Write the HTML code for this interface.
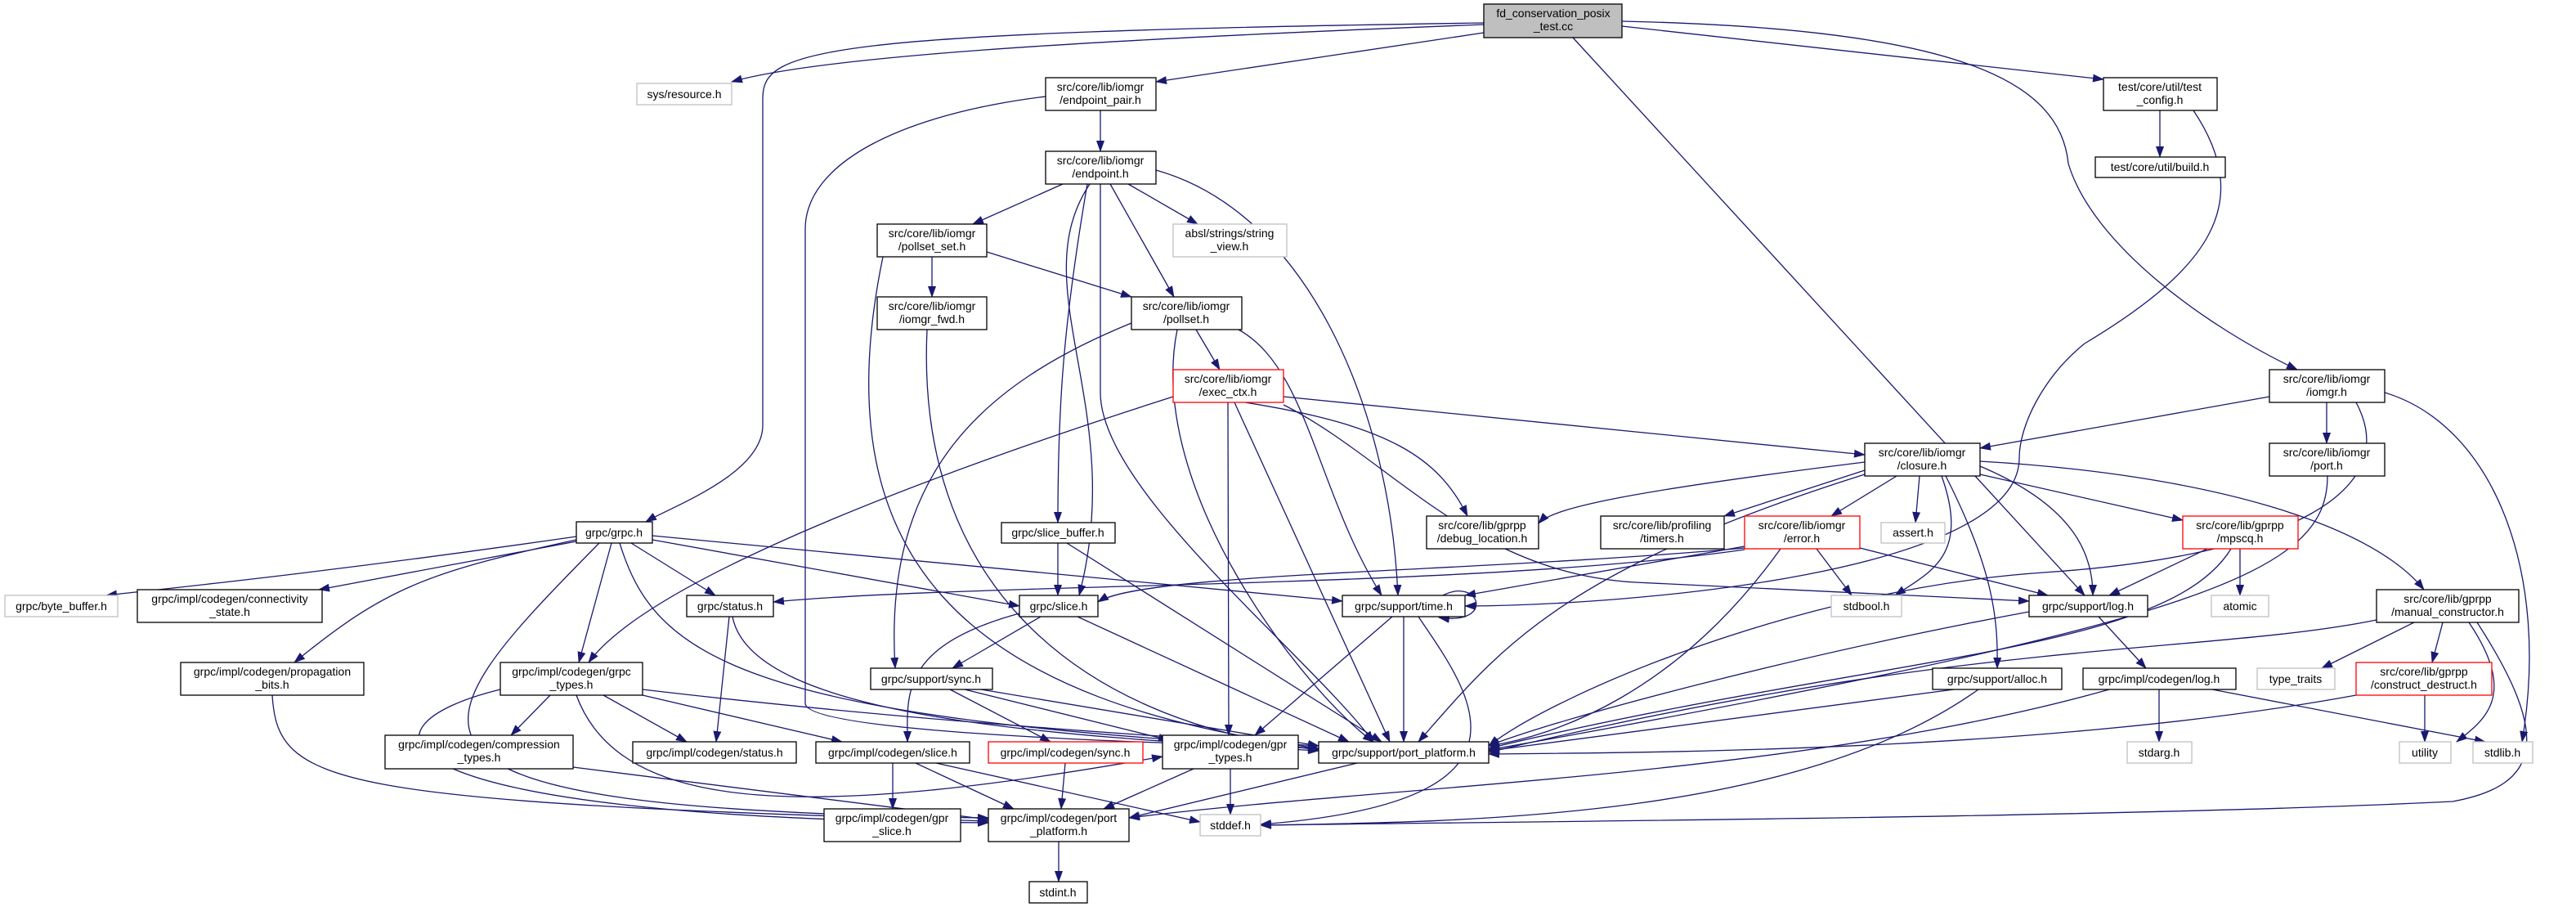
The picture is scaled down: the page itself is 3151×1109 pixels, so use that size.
<!DOCTYPE html>
<html><head><meta charset="utf-8"><style>
html,body{margin:0;padding:0;background:#fff;}
svg{display:block;}
text{font-family:"Liberation Sans",sans-serif;font-size:14px;fill:#000;text-anchor:middle;}
.e{fill:none;stroke:#191970;stroke-width:1.3;marker-end:url(#a);}
.n{fill:#fff;stroke:#000;stroke-width:1.3;}
.g{fill:#fff;stroke:#bfbfbf;stroke-width:1.3;}
.r{fill:#fff;stroke:#ff0000;stroke-width:1.3;}
</style></head><body>
<svg width="3151" height="1109" viewBox="0 0 3151 1109" xmlns="http://www.w3.org/2000/svg">
<defs><marker id="a" markerUnits="userSpaceOnUse" markerWidth="14" markerHeight="10" refX="13" refY="5" orient="auto"><path d="M0,0 L14,5 L0,10 z" fill="#191970"/></marker></defs>
<g>
<path class="e" d="M1815,30 C1300,50 1000,70 895,100"/>
<path class="e" d="M1815,28 C1000,40 933,60 933,120 L933,520 C933,580 820,620 790,638"/>
<path class="e" d="M1815,40 L1414,100"/>
<path class="e" d="M1924,46 L2550,728"/>
<path class="e" d="M1984,32 L2573,97"/>
<path class="e" d="M1984,26 C2400,35 2520,100 2530,200 C2560,300 2700,400 2810,452"/>
<path class="e" d="M1346,135 L1346,185"/>
<path class="e" d="M1279,118 C1100,140 985,200 985,280 L985,860 C985,900 1500,910 1613,915"/>
<path class="e" d="M1300,225 L1190,274"/>
<path class="e" d="M1380,225 L1465,274"/>
<path class="e" d="M1358,225 L1436,363"/>
<path class="e" d="M1330,225 C1300,400 1294,500 1294,639"/>
<path class="e" d="M1333,225 C1250,350 1380,500 1320,728"/>
<path class="e" d="M1346,225 L1346,480 C1346,600 1600,800 1680,907"/>
<path class="e" d="M1414,208 C1600,260 1700,500 1710,728"/>
<path class="e" d="M1140,314 L1140,363"/>
<path class="e" d="M1207,308 L1384,363"/>
<path class="e" d="M1080,314 C1000,700 1200,860 1613,915"/>
<path class="e" d="M1134,403 C1120,700 1300,880 1613,917"/>
<path class="e" d="M1463,403 L1492,452"/>
<path class="e" d="M1384,395 C1200,470 1080,580 1095,817"/>
<path class="e" d="M1440,403 C1400,600 1600,850 1680,907"/>
<path class="e" d="M1515,403 C1600,450 1610,600 1690,728"/>
<path class="e" d="M1570,485 L2281,556"/>
<path class="e" d="M1435,485 C1200,560 800,700 720,810"/>
<path class="e" d="M1502,492 L1503,899"/>
<path class="e" d="M1510,492 L1700,907"/>
<path class="e" d="M1523,492 C1700,520 1760,560 1795,631"/>
<path class="e" d="M1570,495 C1700,560 1800,700 2000,712 L2482,735"/>
<path class="e" d="M2281,565 C2000,600 1900,620 1882,640"/>
<path class="e" d="M2281,575 L2109,631"/>
<path class="e" d="M2320,582 L2240,631"/>
<path class="e" d="M2348,582 L2343,639"/>
<path class="e" d="M2375,582 C2410,680 2360,700 2318,728"/>
<path class="e" d="M2422,570 C2540,620 2560,680 2560,728"/>
<path class="e" d="M2422,580 L2670,636"/>
<path class="e" d="M2422,564 C2700,580 2900,640 2965,721"/>
<path class="e" d="M2380,582 C2440,700 2444,760 2443,817"/>
<path class="e" d="M2281,580 C1900,700 1830,800 1735,907"/>
<path class="e" d="M2134,670 C1800,700 1400,700 1343,736"/>
<path class="e" d="M2134,668 L1792,728"/>
<path class="e" d="M2222,671 L2265,728"/>
<path class="e" d="M2275,670 L2505,728"/>
<path class="e" d="M2178,671 C2050,850 1900,900 1821,912"/>
<path class="e" d="M2134,672 C1800,720 1200,712 946,736"/>
<path class="e" d="M2700,671 L2580,728"/>
<path class="e" d="M2740,671 L2740,728"/>
<path class="e" d="M2729,671 C2650,800 2300,800 1821,915"/>
<path class="e" d="M2567,754 L2625,817"/>
<path class="e" d="M2482,748 C2200,800 1900,880 1821,912"/>
<path class="e" d="M2641,843 L2641,907"/>
<path class="e" d="M2706,843 L3040,907"/>
<path class="e" d="M2580,843 C2200,950 1700,960 1381,1000"/>
<path class="e" d="M2390,843 L1821,918"/>
<path class="e" d="M2420,843 C2200,1000 1800,1005 1542,1009"/>
<path class="e" d="M2953,761 L2840,817"/>
<path class="e" d="M2988,761 L2975,810"/>
<path class="e" d="M3020,761 C3080,850 3040,880 3005,907"/>
<path class="e" d="M3030,761 C3120,900 3110,960 3000,980 C2600,1000 1800,1005 1542,1009"/>
<path class="e" d="M2907,758 C2700,800 2400,780 1821,920"/>
<path class="e" d="M2917,480 C3050,520 3120,700 3085,907"/>
<path class="e" d="M2966,850 L2966,907"/>
<path class="e" d="M2882,850 C2500,920 2000,920 1821,922"/>
<path class="e" d="M2776,485 L2422,548"/>
<path class="e" d="M2846,492 L2846,542"/>
<path class="e" d="M2882,492 C2940,600 2800,680 2500,700 C2200,720 1900,850 1821,912"/>
<path class="e" d="M2847,582 C2847,700 2700,760 1821,917"/>
<path class="e" d="M2642,135 L2642,192"/>
<path class="e" d="M2683,135 C2760,250 2700,330 2550,420 C2500,460 2470,520 2470,560 C2470,700 2000,740 1792,741"/>
<path class="e" d="M705,656 C400,700 200,720 130,728"/>
<path class="e" d="M705,662 L390,721"/>
<path class="e" d="M705,660 C520,700 470,720 360,810"/>
<path class="e" d="M748,664 L708,810"/>
<path class="e" d="M772,664 L875,728"/>
<path class="e" d="M798,660 L1247,741"/>
<path class="e" d="M798,655 L1642,735"/>
<path class="e" d="M758,664 C800,800 900,880 1613,915"/>
<path class="e" d="M733,664 C500,900 420,990 1209,1000"/>
<path class="e" d="M892,754 L876,907"/>
<path class="e" d="M896,754 C920,880 1300,900 1613,918"/>
<path class="e" d="M333,850 C340,960 400,980 1209,1004"/>
<path class="e" d="M673,850 L625,899"/>
<path class="e" d="M738,850 L840,907"/>
<path class="e" d="M786,850 L1030,907"/>
<path class="e" d="M786,843 C1100,880 1400,900 1613,912"/>
<path class="e" d="M612,843 C420,890 450,1000 1209,1006"/>
<path class="e" d="M705,850 C760,1000 1000,1000 1422,925"/>
<path class="e" d="M701,938 L1209,1002"/>
<path class="e" d="M1092,933 L1092,989"/>
<path class="e" d="M1120,933 L1240,989"/>
<path class="e" d="M1145,933 L1468,1005"/>
<path class="e" d="M1294,664 L1294,728"/>
<path class="e" d="M1305,664 L1690,907"/>
<path class="e" d="M1273,754 L1165,817"/>
<path class="e" d="M1247,750 C1100,790 1110,850 1110,907"/>
<path class="e" d="M1318,754 L1650,907"/>
<path class="e" d="M1162,843 L1285,907"/>
<path class="e" d="M1180,843 L1430,905"/>
<path class="e" d="M1200,843 L1613,912"/>
<path class="e" d="M1303,933 L1298,989"/>
<path class="e" d="M1460,940 L1350,989"/>
<path class="e" d="M1505,940 L1505,996"/>
<path class="e" d="M1703,754 L1535,899"/>
<path class="e" d="M1717,754 L1717,907"/>
<path class="e" d="M1735,754 C1800,850 1900,980 1542,1008"/>
<path class="e" d="M1765,728 C1810,705 1830,765 1760,755"/>
<path class="e" d="M1660,933 L1381,1000"/>
<path class="e" d="M1295,1029 L1295,1078"/>
</g>
<g>
<rect x="1815" y="5" width="169" height="41" fill="#bfbfbf" stroke="#000" stroke-width="1.3"/><text x="1900" y="21">fd_conservation_posix</text><text x="1900" y="37">_test.cc</text>
<rect class="g" x="779" y="102" width="116" height="26"/><text x="837" y="120">sys/resource.h</text>
<rect class="n" x="1279" y="95" width="135" height="40"/><text x="1346" y="111">src/core/lib/iomgr</text><text x="1346" y="127">/endpoint_pair.h</text>
<rect class="n" x="1279" y="185" width="135" height="40"/><text x="1346" y="201">src/core/lib/iomgr</text><text x="1346" y="217">/endpoint.h</text>
<rect class="n" x="1073" y="274" width="134" height="40"/><text x="1140" y="290">src/core/lib/iomgr</text><text x="1140" y="306">/pollset_set.h</text>
<rect class="n" x="1073" y="363" width="134" height="40"/><text x="1140" y="379">src/core/lib/iomgr</text><text x="1140" y="395">/iomgr_fwd.h</text>
<rect class="n" x="1384" y="363" width="135" height="40"/><text x="1451" y="379">src/core/lib/iomgr</text><text x="1451" y="395">/pollset.h</text>
<rect class="g" x="1435" y="274" width="139" height="40"/><text x="1504" y="290">absl/strings/string</text><text x="1504" y="306">_view.h</text>
<rect class="r" x="1435" y="452" width="135" height="40"/><text x="1502" y="468">src/core/lib/iomgr</text><text x="1502" y="484">/exec_ctx.h</text>
<rect class="n" x="2573" y="95" width="139" height="40"/><text x="2642" y="111">test/core/util/test</text><text x="2642" y="127">_config.h</text>
<rect class="n" x="2563" y="192" width="159" height="25"/><text x="2642" y="209">test/core/util/build.h</text>
<rect class="n" x="2776" y="452" width="141" height="40"/><text x="2846" y="468">src/core/lib/iomgr</text><text x="2846" y="484">/iomgr.h</text>
<rect class="n" x="2281" y="542" width="141" height="40"/><text x="2351" y="558">src/core/lib/iomgr</text><text x="2351" y="574">/closure.h</text>
<rect class="n" x="2776" y="542" width="141" height="40"/><text x="2846" y="558">src/core/lib/iomgr</text><text x="2846" y="574">/port.h</text>
<rect class="n" x="705" y="638" width="93" height="26"/><text x="751" y="656">grpc/grpc.h</text>
<rect class="g" x="6" y="728" width="138" height="26"/><text x="75" y="746">grpc/byte_buffer.h</text>
<rect class="n" x="168" y="721" width="226" height="40"/><text x="281" y="737">grpc/impl/codegen/connectivity</text><text x="281" y="753">_state.h</text>
<rect class="n" x="840" y="728" width="106" height="26"/><text x="893" y="746">grpc/status.h</text>
<rect class="n" x="221" y="810" width="224" height="40"/><text x="333" y="826">grpc/impl/codegen/propagation</text><text x="333" y="842">_bits.h</text>
<rect class="n" x="612" y="810" width="174" height="40"/><text x="699" y="826">grpc/impl/codegen/grpc</text><text x="699" y="842">_types.h</text>
<rect class="n" x="471" y="899" width="230" height="41"/><text x="586" y="915">grpc/impl/codegen/compression</text><text x="586" y="931">_types.h</text>
<rect class="n" x="774" y="907" width="200" height="26"/><text x="874" y="925">grpc/impl/codegen/status.h</text>
<rect class="n" x="998" y="907" width="188" height="26"/><text x="1092" y="925">grpc/impl/codegen/slice.h</text>
<rect class="n" x="1008" y="989" width="167" height="40"/><text x="1091" y="1005">grpc/impl/codegen/gpr</text><text x="1091" y="1021">_slice.h</text>
<rect class="n" x="1065" y="817" width="149" height="26"/><text x="1139" y="835">grpc/support/sync.h</text>
<rect class="n" x="1225" y="639" width="139" height="25"/><text x="1294" y="656">grpc/slice_buffer.h</text>
<rect class="n" x="1247" y="728" width="96" height="26"/><text x="1295" y="746">grpc/slice.h</text>
<rect class="n" x="1642" y="728" width="150" height="26"/><text x="1717" y="746">grpc/support/time.h</text>
<rect class="n" x="1745" y="631" width="137" height="40"/><text x="1813" y="647">src/core/lib/gprpp</text><text x="1813" y="663">/debug_location.h</text>
<rect class="n" x="1958" y="631" width="151" height="40"/><text x="2033" y="647">src/core/lib/profiling</text><text x="2033" y="663">/timers.h</text>
<rect class="r" x="2134" y="631" width="141" height="40"/><text x="2204" y="647">src/core/lib/iomgr</text><text x="2204" y="663">/error.h</text>
<rect class="r" x="1209" y="907" width="189" height="26"/><text x="1303" y="925">grpc/impl/codegen/sync.h</text>
<rect class="n" x="1422" y="899" width="166" height="41"/><text x="1505" y="915">grpc/impl/codegen/gpr</text><text x="1505" y="931">_types.h</text>
<rect class="n" x="1613" y="907" width="208" height="26"/><text x="1717" y="925">grpc/support/port_platform.h</text>
<rect class="n" x="1209" y="989" width="172" height="40"/><text x="1295" y="1005">grpc/impl/codegen/port</text><text x="1295" y="1021">_platform.h</text>
<rect class="g" x="1468" y="996" width="74" height="26"/><text x="1505" y="1014">stddef.h</text>
<rect class="n" x="1259" y="1078" width="71" height="26"/><text x="1294" y="1096">stdint.h</text>
<rect class="g" x="2301" y="639" width="78" height="25"/><text x="2340" y="656">assert.h</text>
<rect class="r" x="2670" y="631" width="141" height="40"/><text x="2740" y="647">src/core/lib/gprpp</text><text x="2740" y="663">/mpscq.h</text>
<rect class="g" x="2240" y="728" width="86" height="26"/><text x="2283" y="746">stdbool.h</text>
<rect class="n" x="2482" y="728" width="145" height="26"/><text x="2554" y="746">grpc/support/log.h</text>
<rect class="g" x="2705" y="728" width="70" height="26"/><text x="2740" y="746">atomic</text>
<rect class="n" x="2907" y="721" width="174" height="40"/><text x="2994" y="737">src/core/lib/gprpp</text><text x="2994" y="753">/manual_constructor.h</text>
<rect class="n" x="2364" y="817" width="158" height="26"/><text x="2443" y="835">grpc/support/alloc.h</text>
<rect class="n" x="2548" y="817" width="187" height="26"/><text x="2641" y="835">grpc/impl/codegen/log.h</text>
<rect class="g" x="2761" y="817" width="95" height="26"/><text x="2808" y="835">type_traits</text>
<rect class="r" x="2882" y="810" width="166" height="40"/><text x="2965" y="826">src/core/lib/gprpp</text><text x="2965" y="842">/construct_destruct.h</text>
<rect class="g" x="2602" y="907" width="79" height="26"/><text x="2641" y="925">stdarg.h</text>
<rect class="g" x="2935" y="907" width="63" height="26"/><text x="2966" y="925">utility</text>
<rect class="g" x="3025" y="907" width="73" height="26"/><text x="3061" y="925">stdlib.h</text>
</g>
</svg>
</body></html>
